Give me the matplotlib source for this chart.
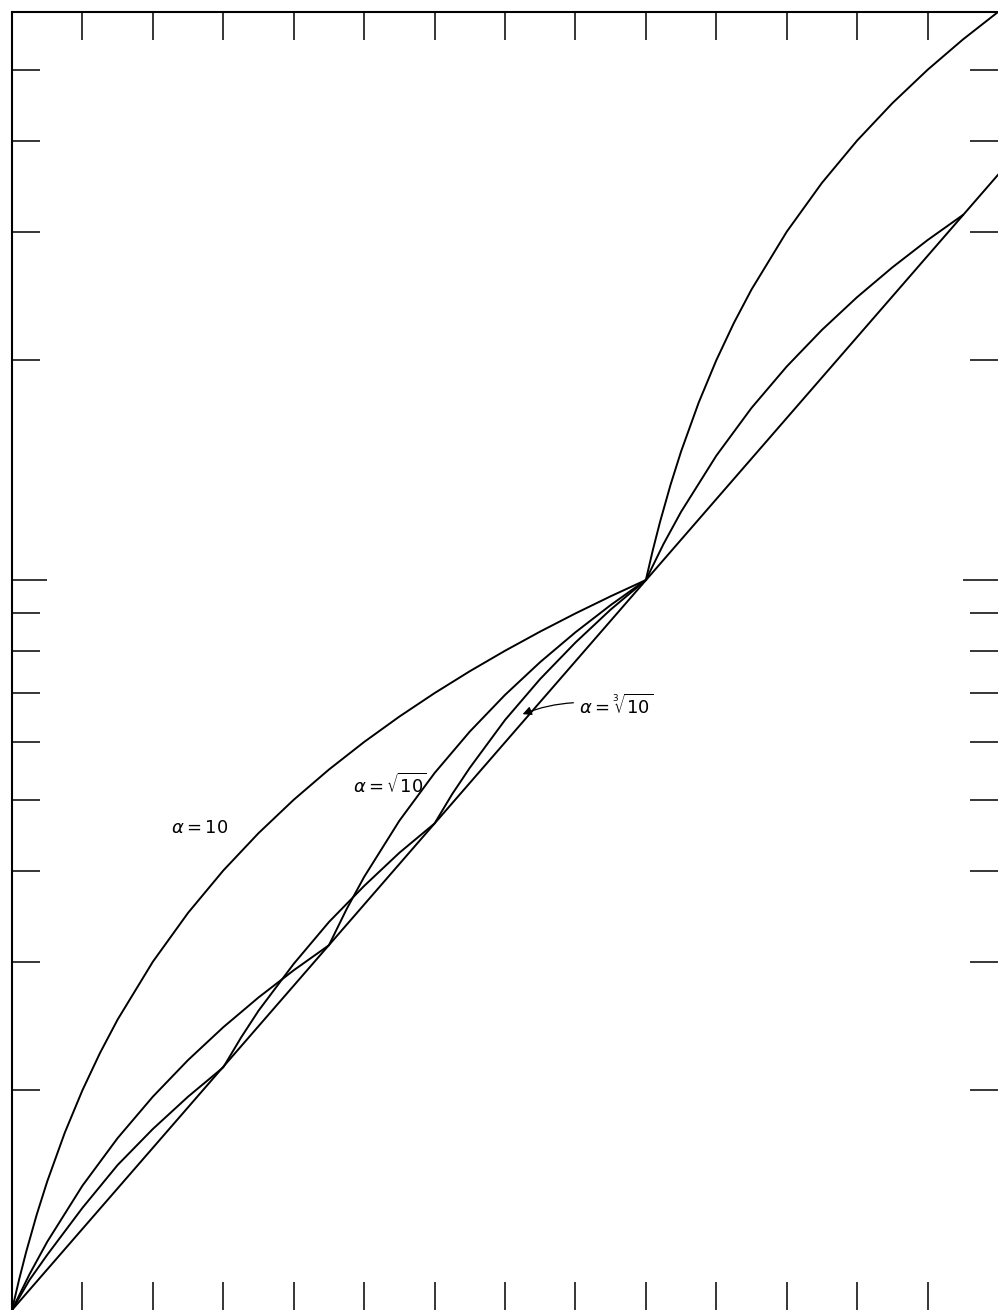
""" interpolation curves for alpha = 10, sqrt(10), cbrt(10) on semilog paper """

import matplotlib.pyplot as plt

# values (x linear 0..14, y log 1..60)
x_a10 = [0, 0.1, 0.2, 0.35, 0.5, 0.75, 1, 1.25, 1.5, 2, 2.5, 3, 3.5, 4, 4.5, 5,
         5.5, 6, 6.5, 7, 7.5, 8, 8.5, 9, 9.1, 9.2, 9.35, 9.5, 9.75, 10, 10.25,
         10.5, 11, 11.5, 12, 12.5, 13, 13.5, 14]
y_a10 = [1, 1.1, 1.2, 1.35, 1.5, 1.75, 2, 2.25, 2.5, 3, 3.5, 4, 4.5, 5, 5.5, 6,
         6.5, 7, 7.5, 8, 8.5, 9, 9.5, 10, 11, 12, 13.5, 15, 17.5, 20, 22.5,
         25, 30, 35, 40, 45, 50, 55, 60]

x_sq = [0, 0.25, 0.5, 1, 1.5, 2, 2.5, 3, 3.5, 4, 4.5, 4.75, 5, 5.5, 6, 6.5, 7,
        7.5, 8, 8.5, 9, 9.25, 9.5, 10, 10.5, 11, 11.5, 12, 12.5, 13, 13.5]
y_sq = [1, 1.12, 1.24, 1.48, 1.72, 1.96, 2.20, 2.44, 2.68, 2.92, 3.16, 3.54,
        3.92, 4.68, 5.44, 6.20, 6.96, 7.72, 8.48, 9.24, 10, 11.20, 12.40,
        14.80, 17.21, 19.61, 22.01, 24.41, 26.81, 29.22, 31.62]

x_cb = [0, 0.25, 0.5, 1, 1.5, 2, 2.5, 3, 3.25, 3.5, 4, 4.5, 5, 5.5, 6, 6.25,
        6.5, 7, 7.5, 8, 8.5, 9]
y_cb = [1, 1.10, 1.19, 1.38, 1.58, 1.77, 1.96, 2.15, 2.36, 2.57, 2.98, 3.40,
        3.81, 4.23, 4.64, 5.09, 5.53, 6.43, 7.32, 8.21, 9.11, 10]

x_exp = [0, 14]
y_exp = [1, 35.9]

x_ticks = list(range(1, 14))
y_major = [10]
y_minor = [2, 3, 4, 5, 6, 7, 8, 9, 20, 30, 40, 50]

fig = plt.figure(figsize=(9.98, 13.10), dpi=100)
ax = fig.add_axes([12 / 998, 0, 986 / 998, 1298 / 1310])

lw = 1.4
ax.plot(x_a10, y_a10, color="black", linewidth=lw)
ax.plot(x_sq, y_sq, color="black", linewidth=lw)
ax.plot(x_cb, y_cb, color="black", linewidth=lw)
ax.plot(x_exp, y_exp, color="black", linewidth=lw)

ax.set_yscale("log")
ax.set_xlim(0, 14)
ax.set_ylim(1, 60)
ax.set_xticks(x_ticks)
ax.set_xticks([], minor=True)
ax.set_yticks(y_major)
ax.set_yticks(y_minor, minor=True)
ax.tick_params(which="both", direction="in", top=True, right=True,
               labelbottom=False, labelleft=False, width=1.1, color="black")
ax.tick_params(axis="x", which="major", length=20)
ax.tick_params(axis="y", which="major", length=25)
ax.tick_params(axis="y", which="minor", length=20)
ax.spines["right"].set_visible(False)
ax.spines["bottom"].set_visible(False)
ax.spines["top"].set_linewidth(1.5)
ax.spines["left"].set_linewidth(1.5)

ax.text(2.67, 4.57, r"$\alpha = 10$", fontsize=13, ha="center", va="center")
ax.text(5.37, 5.24, r"$\alpha = \sqrt{10}$", fontsize=13, ha="center", va="center")
ax.annotate(r"$\alpha = \sqrt[3]{10}$", xy=(7.25, 6.55), xytext=(8.05, 6.72),
            fontsize=13, ha="left", va="center",
            arrowprops=dict(arrowstyle="-|>", color="black", linewidth=0.9,
                            connectionstyle="arc3,rad=0.15", shrinkA=2, shrinkB=0))

fig.savefig("out.png", dpi=100)
